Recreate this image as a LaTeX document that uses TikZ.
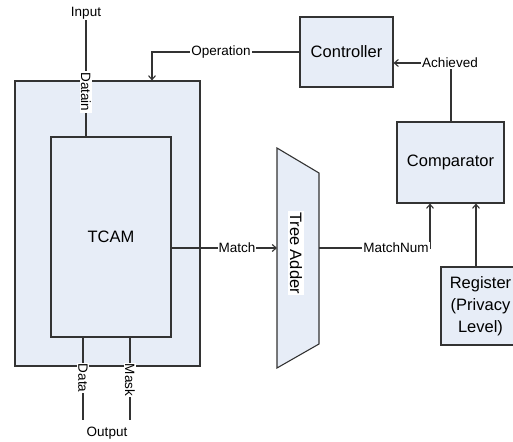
\documentclass[tikz,border=0pt]{standalone}
\usepackage{fontspec}
\setmainfont{Liberation Sans}
\usetikzlibrary{arrows.meta,calc}
\definecolor{boxfill}{HTML}{E7EDF7}
\definecolor{edge}{HTML}{333333}
\tikzset{
  block/.style={draw=edge, line width=1.1pt, fill=boxfill, inner sep=0pt,
    font=\fontsize{16.5}{22}\selectfont, align=center},
  wire/.style={draw=edge, line width=1.1pt},
  arr/.style={wire, -{Straight Barb[length=4pt,width=7pt]}},
  tag/.style={fill=white, inner sep=1pt, font=\fontsize{13.5}{16}\selectfont},
  vtag/.style={tag, rotate=-90},
  plain/.style={inner sep=1pt, font=\fontsize{13.5}{16}\selectfont}
}
\begin{document}
\begin{tikzpicture}[x=1pt, y=-1pt]
\useasboundingbox (0,0) rectangle (513,441);

% main blocks
\node[block, minimum width=185pt, minimum height=285pt] (outer) at (107.5,223.5) {};
\node[block, minimum width=120pt, minimum height=200pt] (tcam) at (111,237) {TCAM};
\node[block, minimum width=93pt, minimum height=70pt] (ctrl) at (346.5,52) {Controller};
\node[block, minimum width=107pt, minimum height=81pt] (comp) at (450.5,162.5) {Comparator};
\node[block, minimum width=79pt, minimum height=78pt] (reg) at (480.5,306) {Register\\(Privacy\\Level)};

% tree adder (trapezoid)
\draw[block] (277,148) -- (319,173) -- (319,344) -- (277,368) -- cycle;
\coordinate (addin) at (277,248);
\coordinate (addout) at (319,248);
\node[vtag, inner sep=1.5pt, font=\fontsize{16.5}{20}\selectfont] (adder) at (296,253) {Tree Adder};

% data input
\node[plain] (input) at (86,13) {Input};
\coordinate (dtop) at (tcam.north -| input);
\draw[wire] (input.south) -- (dtop);
\node[vtag] (datain) at (86,92) {Datain};

% operation from controller
\coordinate (opcorner) at (152,52);
\coordinate (optarget) at (outer.north -| opcorner);
\draw[arr] (ctrl.west) -- (opcorner) -- (optarget);
\node[tag] (oplabel) at (221,52) {Operation};

% match to tree adder
\draw[arr] (tcam.east |- addin) -- (addin);
\node[tag] (match) at (237,248) {Match};

% match count to comparator
\coordinate (mncorner) at (430,248);
\draw[arr] (addout) -- (mncorner) -- (comp.south -| mncorner);
\node[tag] (matchnum) at (396,248) {MatchNum};

% register to comparator
\coordinate (regx) at (476,267);
\draw[arr] (reg.north -| regx) -- (comp.south -| regx);

% achieved back to controller
\coordinate (achcorner) at (451,63);
\draw[arr] (comp.north -| achcorner) -- (achcorner) -- (ctrl.east |- achcorner);
\node[tag] (achieved) at (450,63) {Achieved};

% outputs
\coordinate (dataend) at (83,420);
\coordinate (maskend) at (130,420);
\draw[wire] (tcam.south -| dataend) -- (dataend);
\draw[wire] (tcam.south -| maskend) -- (maskend);
\node[vtag] (data) at (83,378) {Data};
\node[vtag] (mask) at (130,380) {Mask};
\node[plain] (output) at (107,433) {Output};
\end{tikzpicture}
\end{document}
